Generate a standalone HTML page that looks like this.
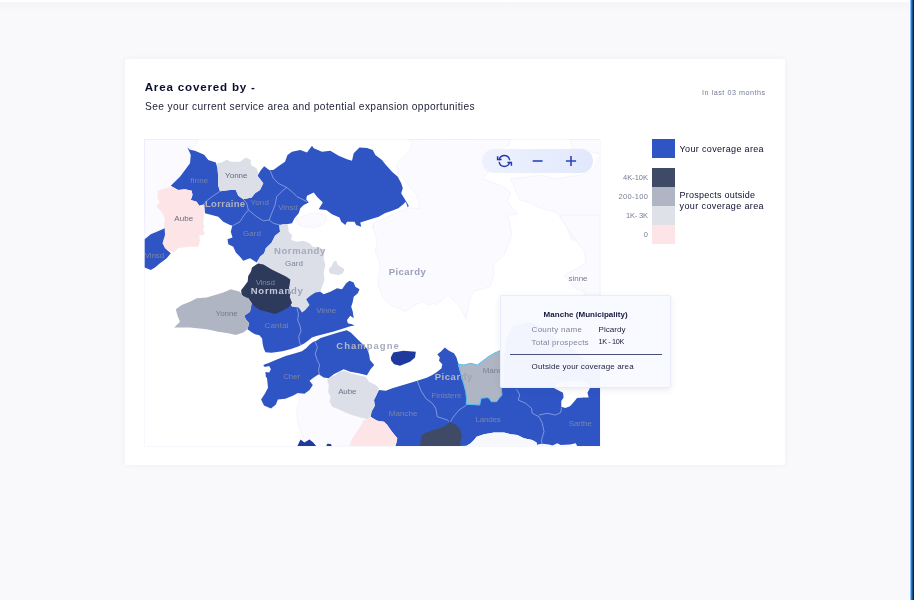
<!DOCTYPE html>
<html lang="en">
<head>
<meta charset="utf-8">
<title>Area covered</title>
<style>
html,body{margin:0;padding:0;}
body{width:914px;height:600px;overflow:hidden;background:#f9f9fb;font-family:"Liberation Sans",sans-serif;position:relative;}
.abs{position:absolute;}
.t{white-space:nowrap;}
.topstrip{left:0;top:0;width:914px;height:2px;background:#fff;}
.rwhite{left:909px;top:0;width:5px;height:600px;background:linear-gradient(90deg,#fff 0,#fff 1px,#7fbfff 1px,#7fbfff 2px,#0a84ff 2px,#0a84ff 3px,#14508c 3px,#14508c 4px,#1c1c1c 4px);}
.card{left:125px;top:59px;width:660px;height:406px;background:#fff;border-radius:2px;box-shadow:0 0 6px rgba(40,50,90,0.05);}
.map{left:144px;top:139px;width:456px;height:307px;background:#fff;overflow:hidden;}
.map svg{position:absolute;left:-144px;top:-139px;font-family:"Liberation Sans",sans-serif;}
.mapborder{left:144px;top:139px;width:457px;height:308px;box-sizing:border-box;border:1px solid rgba(40,60,230,0.04);}
.ctrl{left:482px;top:149px;width:111px;height:24px;border-radius:12px;background:linear-gradient(90deg,#eef2fe,#e2e8fc);}
.sw{left:652px;width:23px;}
.tip{left:500px;top:295px;width:171px;height:93px;box-sizing:border-box;background:rgba(249,250,255,0.972);border:1px solid #e9ecfa;border-radius:2px;box-shadow:0 2px 6px rgba(60,70,120,0.10);}
</style>
</head>
<body>
<div class="abs topstrip"></div>
<div class="abs" style="left:0;top:2px;width:909px;height:11px;background:linear-gradient(rgba(70,80,110,0.025),rgba(70,80,110,0))"></div>
<div class="abs card"></div>
<div class="abs t" style="left:144.7px;top:80.03px;font-size:11.6px;line-height:14.5px;font-weight:700;color:#0c0e2e;letter-spacing:0.809px;">Area covered by -</div>
<div class="abs t" style="left:145px;top:100.89px;font-size:10.2px;line-height:12.75px;font-weight:400;color:#1d2036;letter-spacing:0.369px;">See your current service area and potential expansion opportunities</div>
<div class="abs t" style="left:702px;top:88.11px;font-size:7.2px;line-height:9.0px;font-weight:400;color:#767c94;letter-spacing:0.529px;">In last 03 months</div>
<div class="abs t" style="left:679.6px;top:144.26px;font-size:9px;line-height:11.25px;font-weight:400;color:#0c0e2e;letter-spacing:0.34px;">Your coverage area</div>
<div class="abs t" style="left:679.6px;top:190.26px;font-size:9px;line-height:11.25px;font-weight:400;color:#0c0e2e;letter-spacing:0.241px;">Prospects outside</div>
<div class="abs t" style="left:679.6px;top:201.26px;font-size:9px;line-height:11.25px;font-weight:400;color:#0c0e2e;letter-spacing:0.38px;">your coverage area</div>
<div class="abs t" style="left:623px;top:172.71px;font-size:7.5px;line-height:9.38px;font-weight:400;color:#767c94;letter-spacing:-0.003px;">4K-10K</div>
<div class="abs t" style="left:618.4px;top:191.71px;font-size:7.5px;line-height:9.38px;font-weight:400;color:#767c94;letter-spacing:0.346px;">200-100</div>
<div class="abs t" style="left:626px;top:210.71px;font-size:7.5px;line-height:9.38px;font-weight:400;color:#767c94;letter-spacing:-0.186px;">1K- 3K</div>
<div class="abs t" style="left:643.83px;top:229.71px;font-size:7.5px;line-height:9.38px;font-weight:400;color:#767c94;letter-spacing:0px;">0</div>

<div class="abs map">
<svg width="914" height="600" viewBox="0 0 914 600">
<path d="M144.2,139.2 L198.3,139.2 L196.7,143.3 L190.0,149.7 L187.5,147.5 L190.8,155.0 L190.0,163.3 L180.0,176.7 L170.8,185.8 L158.3,190.8 L157.5,198.3 L160.0,201.7 L156.7,206.7 L161.7,211.7 L165.0,218.3 L164.2,225.0 L165.8,231.7 L165.0,228.3 L161.7,232.5 L156.7,230.0 L150.0,235.0 L145.0,239.2Z" fill="#fafaff" stroke="#eceefb" stroke-width="0.6"/>
<path d="M408.7,139.2 L412.0,143.3 L408.7,151.7 L402.0,158.3 L396.2,165.0 L398.7,173.3 L408.7,185.0 L415.3,193.3 L418.7,201.7 L419.5,208.3 L408.7,208.3 L398.7,211.7 L385.3,218.3 L373.7,223.3 L372.8,228.3 L372.8,225.0 L377.0,241.7 L375.3,251.7 L378.7,260.0 L380.3,270.0 L377.8,276.7 L378.7,286.7 L382.0,295.0 L385.3,300.0 L390.3,305.0 L398.7,308.3 L405.3,311.7 L415.3,305.0 L422.0,301.7 L428.7,305.0 L434.0,303.3 L436.0,305.0 L448.0,295.0 L460.0,307.0 L466.0,319.0 L470.0,299.0 L474.0,291.0 L490.0,287.0 L494.0,275.0 L493.0,265.0 L504.0,255.0 L512.0,235.0 L508.0,215.0 L517.6,213.8 L507.0,201.5 L510.5,192.8 L501.8,185.8 L482.5,178.8 L487.8,172.7 L482.5,161.3 L486.0,154.3 L496.5,149.9 L508.8,145.5 L510.5,138.9Z" fill="#fafaff" stroke="#eceefb" stroke-width="0.6"/>
<path d="M600.7,138.9 L570.1,138.9 L571.8,149.0 L584.1,149.0 L592.9,152.5 L600.7,154.3Z" fill="#fafaff" stroke="#eceefb" stroke-width="0.6"/>
<path d="M600.7,154.3 L600.7,240.1 L571.8,240.1 L566.6,226.1 L556.1,212.1 L542.1,208.6 L526.3,201.5 L519.3,199.8 L514.1,187.5 L510.5,178.8 L526.3,177.0 L542.1,175.3 L556.1,178.8 L566.6,177.0 L580.6,175.3 L592.9,170.0Z" fill="#fafaff" stroke="#eceefb" stroke-width="0.6"/>
<path d="M600.0,215.0 L600.0,295.0 L584.0,295.0 L584.0,291.0 L576.0,289.0 L564.0,275.0 L580.0,267.0 L586.0,261.0 L584.0,251.0 L572.0,235.0 L564.0,223.0 L560.0,215.0Z" fill="#fafaff" stroke="#eceefb" stroke-width="0.6"/>
<path d="M318.7,374.2 L313.7,377.5 L309.5,380.8 L312.0,385.0 L308.7,388.3 L305.3,391.7 L298.7,393.3 L297.5,392.6 L299.5,399.5 L296.6,409.4 L297.5,421.2 L300.5,431 L303.5,437 L300.5,448 L349.8,445.8 L351.5,440.0 L354.8,435.0 L358.2,430.0 L361.5,425.0 L364.0,420.0 L360.7,417.5 L352.3,415.0 L345.7,412.5 L339.0,409.2 L332.3,406.7 L329.8,401.7 L330.7,396.7 L328.2,391.7 L329.0,385.8 L327.3,380.0 L330.7,376.7Z" fill="#fafaff" stroke="#eceefb" stroke-width="0.6"/>
<path d="M295.3,218.3 L302.0,216.7 L310.3,213.3 L318.7,213.3 L325.3,215.0 L327.0,220.0 L322.0,225.0 L313.7,227.5 L305.3,226.7 L298.7,225.0Z" fill="#fafaff" stroke="#eceefb" stroke-width="0.6"/>
<path d="M204.2,204.2 L205.0,213.3 L211.7,215.0 L218.3,216.7 L223.3,221.7 L230.0,225.0 L232.5,225.8 L232.5,225.0 L230.8,231.7 L232.5,237.5 L227.5,239.2 L228.3,244.2 L233.3,246.7 L235.8,252.5 L240.0,256.7 L243.3,260.8 L250.0,258.3 L256.7,262.5 L260.0,256.7 L264.2,253.3 L265.8,248.3 L271.7,242.5 L275.0,235.8 L280.0,231.7 L279.2,225.0 L280.0,225.0 L286.7,224.2 L292.0,223.3 L294.5,218.3 L298.7,213.3 L300.3,208.3 L303.7,205.0 L308.7,202.5 L306.2,199.2 L307.0,195.8 L313.7,192.5 L317.0,196.7 L322.8,202.5 L318.7,209.2 L326.2,210.0 L332.0,214.2 L339.5,217.5 L341.2,221.7 L345.3,225.0 L347.0,221.7 L354.5,221.7 L356.2,225.0 L361.2,226.7 L360.3,222.5 L373.7,218.3 L378.7,216.7 L385.3,213.0 L392.0,210.8 L398.3,208.3 L403.3,204.2 L405.7,201.7 L407.8,207.5 L408.7,205.8 L405.3,200.0 L401.2,193.3 L402.8,188.3 L401.2,183.3 L397.8,176.7 L392.0,171.7 L385.3,164.2 L382.0,160.0 L375.3,155.0 L372.8,150.0 L367.0,148.0 L359.5,147.5 L353.7,153.3 L352.0,160.8 L347.0,159.2 L338.7,155.8 L330.3,150.8 L322.0,151.7 L313.7,148.3 L312.0,145.8 L307.0,152.5 L300.3,150.0 L292.0,151.7 L287.5,155.0 L285.0,161.7 L279.2,165.8 L273.3,170.0 L269.2,170.0 L264.2,166.3 L260.8,170.3 L257.5,175.8 L263.3,183.3 L260.0,190.0 L255.0,193.3 L251.7,197.5 L243.3,199.2 L238.3,195.8 L235.8,190.0 L230.0,190.0 L220.0,191.3 L218.0,185.0 L218.3,178.3 L217.5,168.3 L215.8,162.5 L208.3,160.0 L204.2,154.7 L195.0,150.8 L190.0,149.7 L187.5,147.5 L190.8,155.0 L190.0,163.3 L180.0,176.7 L170.8,185.8 L178.3,190.0 L185.0,189.2 L191.7,190.8 L192.5,195.0 L190.8,200.0 L196.7,201.7 L199.2,205.8Z" fill="#2f55c4" />
<path d="M217.0,163.3 L221.7,162.5 L226.7,159.7 L230.8,161.7 L240.0,161.7 L245.8,157.5 L250.8,160.0 L250.8,165.0 L256.7,168.3 L258.3,173.3 L257.5,175.8 L263.3,183.3 L260.0,190.0 L255.0,193.3 L251.7,197.5 L243.3,199.2 L238.3,195.8 L235.8,190.0 L230.0,190.0 L220.0,191.3 L218.0,185.0 L218.3,178.3 L217.5,168.3Z" fill="#dcdfe7" />
<path d="M158.3,190.8 L170.8,186.7 L178.3,190.0 L185.0,189.2 L191.7,190.8 L192.5,195.0 L190.8,200.0 L196.7,201.7 L199.2,205.8 L204.2,205.0 L204.2,213.3 L203.3,221.7 L204.2,228.3 L202.5,228.3 L205.0,234.2 L199.2,235.8 L200.0,240.8 L198.3,246.7 L188.3,246.7 L178.3,248.3 L173.3,252.5 L165.0,248.3 L162.5,243.3 L165.0,235.0 L165.0,228.3 L165.8,231.7 L164.2,225.0 L165.0,218.3 L161.7,211.7 L156.7,206.7 L160.0,201.7 L157.5,198.3Z" fill="#fde4e6" />
<path d="M144.7,239.2 L150.8,234.2 L160.8,230.0 L164.7,228.3 L165.0,235.0 L162.5,243.3 L165.0,248.3 L170.8,253.3 L166.7,258.3 L160.0,263.3 L155.0,267.5 L150.8,270.0 L144.7,267.5Z" fill="#2f55c4" />
<path d="M279.5,225 L284,224 L288,225 L288.7,231.7 L292.0,235.0 L291.2,240.0 L297.0,241.7 L303.7,240.8 L309.5,243.3 L312.8,246.7 L319.5,247.5 L324.5,250.0 L323.7,258.3 L325.3,265.0 L323.7,273.3 L324.5,280.0 L322.0,286.7 L320.3,291.7 L315.3,292.5 L310.3,295.8 L306.2,299.2 L309.5,305.0 L305.3,310.0 L302.0,312.5 L298.7,307.5 L292.0,306.7 L288.7,305.0 L285.3,291.7 L282.0,281.7 L272,275 L263,270 L258.5,266 L257.5,262.5 L260.0,256.7 L264.2,253.3 L265.8,248.3 L271.7,242.5 L275.0,235.8 L280.0,231.7Z" fill="#dcdfe7" />
<path d="M333.7,261.7 L336.2,260.8 L337.8,265.0 L342.0,267.5 L344.5,269.2 L342.8,273.3 L338.7,275.0 L333.7,274.2 L329.5,273.3 L328.7,269.2 L331.2,266.7Z" fill="#dcdfe7" />
<path d="M251.7,303.3 L255,302 L263.3,304 L273.3,306 L280,304 L286.7,302 L288.7,302 L292.0,306.7 L298.7,307.5 L302.0,312.5 L305.3,310.0 L309.5,305.0 L306.2,299.2 L310.3,295.8 L315.3,292.5 L320.3,291.7 L323.7,294.2 L330.3,291.7 L337.0,288.3 L342.0,289.2 L346.2,283.3 L349.5,280.8 L353.7,282.5 L355.3,286.7 L359.5,289.2 L357.8,293.3 L353.7,296.7 L352.8,301.7 L351.2,306.7 L352.8,311.7 L353.7,318.3 L350.3,315.8 L347.0,320.0 L347.8,323.3 L352,324.2 L354.5,325.5 L350.2,326.3 L342.5,328.8 L333.8,331.5 L325,333.7 L316.3,335.9 L311.9,337.5 L308.6,340.2 L304.2,343.5 L298.8,346.3 L291.1,349 L282.4,351.2 L271.4,352.8 L265.4,352.3 L263.8,348.4 L262.7,344.1 L262.1,338.6 L259.4,335.3 L255,334.2 L252,332.5 L247.5,329.2 L249.2,323.3 L245.8,319.2 L244.2,315.8 L250.0,311.7 L251.7,303.3Z" fill="#2f55c4" />
<path d="M252,267.4 L258,263.5 L263.5,264.6 L271.7,269.5 L278.3,272.8 L286,276.6 L290.3,279.4 L289.8,283.8 L289,288 L290.5,292.5 L289.8,297 L292,303 L289,307 L282,311 L275,314 L268,312 L260,310 L255,306.7 L251.7,303.3 L248.3,298.3 L245.5,298 L241.6,294.7 L241.1,290.3 L244.4,286 L247.7,281.6 L248.2,276.1 L250.9,271.7Z" fill="#2d3a5c" />
<path d="M230.8,289.2 L223.3,292.5 L215.0,295.0 L206.7,297.5 L196.7,298.3 L190.0,301.7 L181.7,305.0 L175.8,309.2 L177.5,315.8 L180.0,321.7 L174.2,327.5 L190.0,327.5 L206.7,329.2 L218.3,331.7 L228.3,333.3 L235.8,335.0 L243.3,332.5 L247.5,329.2 L249.2,323.3 L245.8,319.2 L244.2,315.8 L250.0,311.7 L251.7,303.3 L248.3,298.3 L242.5,295.8 L240.0,291.7Z" fill="#b0b5c3" />
<path d="M263.2,364.9 L269.2,362.7 L276.9,359.4 L285.6,356.1 L294.4,353.4 L302,351.2 L306.4,347.9 L309.7,344.6 L313,341.9 L316.3,340.8 L320.6,338 L329.4,335.3 L338.2,332.6 L346.7,330.3 L350.8,332.5 L355,336.7 L360.8,342.5 L367.5,349.2 L369.2,355 L370,360 L374.2,365 L370,370 L367,375.3 L358.7,373.3 L350.3,371.7 L343.7,369.2 L338.7,371.7 L333.7,374.2 L328.7,378.3 L323.7,377.5 L318.7,374.2 L313.7,377.5 L309.5,380.8 L312.8,385.0 L309.5,390.0 L304.5,393.7 L297.8,393.0 L292.8,395.8 L285.3,398.7 L277.9,399.5 L275.9,404.5 L271,408.4 L264,405.4 L261.1,399.5 L265,393.6 L268,387.7 L267,378 L265.9,376.9 L265.4,372 L269.2,372.5 L270.9,369.2 L269.2,366 L264.8,367Z" fill="#2f55c4" />
<path d="M390.8,357.5 L393.3,352.5 L403.3,350.8 L415.8,351.7 L415,357.5 L410,361.7 L400,365.8 L394.2,364.2 L391.3,360.8Z" fill="#1f3a9e" />
<path d="M296.5,448 L300.5,439.5 L304.4,442.5 L309.4,439.5 L313.3,442.5 L317,448Z" fill="#1f3a9e" />
<path d="M314.0,443.7 L317.3,447.5 L314.0,447.5Z" fill="#1f3a9e" />
<path d="M325.7,447.5 L327.3,443.7 L330.7,444.0 L332.7,447.5Z" fill="#1f3a9e" />
<path d="M376.5,395.0 L379.0,390.0 L385.7,390.8 L392.3,388.3 L400.7,385.8 L409.0,383.3 L417.3,380.8 L427.3,377.5 L425.7,378.3 L432.3,375.0 L437.3,371.7 L441.5,368.3 L442.3,364.2 L439.0,360.8 L439.8,357.5 L437.3,354.2 L440.7,351.7 L444.8,347.5 L449.0,350.8 L454.0,353.3 L456.5,357.5 L458.2,363.3 L464.0,370.0 L480.7,375.0 L503,372 L506,340 L512,326 L530,322 L548,330 L560,344 L575,350 L585,362 L602,365 L602,448 L537.5,448 L536.5,442.5 L532.3,440.0 L524.0,438.3 L517.3,435.0 L510.7,434.2 L504.0,432.5 L494.0,432.5 L484.0,434.2 L476.5,436.7 L474.0,440.0 L470.7,443.3 L466.5,445.8 L395,448 L396.5,442.5 L397.3,438.3 L394.0,434.2 L390.7,430.0 L387.3,425.0 L384.0,421.7 L377.3,420.8 L370.7,416.7 L371.5,411.7 L374.8,405.8 L374.0,400.0Z" fill="#2f55c4" />
<path d="M537.3,448.3 L466.5,448.3 L466.5,445.8 L537.3,445.8 L536.5,442.5 L532.3,440.0 L524.0,438.3 L517.3,435.0 L510.7,434.2 L504.0,432.5 L494.0,432.5 L484.0,434.2 L476.5,436.7 L474.0,440.0 L470.7,443.3 L466.5,445.8Z" fill="#f7f8fc" />
<path d="M554.3,388.2 L563,392.8 L563.6,397.5 L561.3,401 L561.3,406.8 L565.3,408 L570,406.3 L574.7,401 L577,398.1 L584,397.5 L588.7,397.5 L587.5,392.8 L589.8,388.2 L588,383 L580,381 L568,381 L558,383Z" fill="#ffffff" />
<path d="M537,447 L537.3,444.4 L542,443.8 L549,444.4 L552.5,445.4 L557.2,443.2 L560.7,445 L570,444.4 L575.8,443.2 L577.6,447Z" fill="#fbfbfe" />
<path d="M458.2,364.2 L464.0,365.0 L470.7,363.3 L477.3,365.0 L484.0,360.0 L488.2,356.7 L494.0,353.3 L499.8,350.8 L503,352 L504,372 L501.3,388.1 L502,395 L499,398.5 L496.6,401.7 L491.3,401.7 L489.3,398.5 L487.3,397.6 L481.2,398.3 L480.3,402 L479.7,405.1 L473,404.6 L466.3,404.3 L466.5,398.3 L465.7,391.7 L464.0,385.0 L461.5,376.7 L459.8,370.0Z" fill="#b0b5c3" stroke="#55c0f5" stroke-width="1" stroke-linejoin="round"/>
<path d="M339.0,371.7 L344.0,370.8 L350.7,373.3 L357.3,375.0 L365.7,376.7 L369.0,381.7 L375.7,385.0 L379.0,388.3 L376.5,395.0 L374.0,400.0 L374.8,405.8 L371.5,411.7 L370.7,416.7 L367.3,419.2 L360.7,417.5 L352.3,415.0 L345.7,412.5 L339.0,409.2 L332.3,406.7 L329.8,401.7 L330.7,396.7 L328.2,391.7 L329.0,385.8 L327.3,380.0 L330.7,376.7 L335.7,375.0Z" fill="#dcdfe7" />
<path d="M364.0,420.0 L367.3,419.2 L370.7,417.5 L377.3,420.8 L384.0,421.7 L387.3,425.0 L390.7,430.0 L394.0,434.2 L397.3,438.3 L396.5,442.5 L393.2,447.5 L349.8,447.5 L351.5,440.0 L354.8,435.0 L358.2,430.0 L361.5,425.0Z" fill="#fde4e6" />
<path d="M419.8,448 L420.5,441 L422,434.4 L431,430.8 L441.3,427.8 L446,425.2 L450.3,422 L455.7,424.7 L460.1,429 L461.9,436.3 L460.3,443 L460,448Z" fill="#3f4b66" />
<path d="M220.0,191.3 L213.3,195.8 L206.7,200.8 L204.2,204.2" fill="none" stroke="#b4c1ef" stroke-opacity="0.85" stroke-width="0.7" stroke-linejoin="round"/>
<path d="M243.3,199.2 L246.7,203.3 L248.3,210.0 L244.2,215.0 L240.0,221.7 L232.5,225.8" fill="none" stroke="#b4c1ef" stroke-opacity="0.85" stroke-width="0.7" stroke-linejoin="round"/>
<path d="M248.3,210.0 L256.7,216.7 L263.3,220.8 L269.2,220.0 L273.3,223.3 L280.0,225.0" fill="none" stroke="#b4c1ef" stroke-opacity="0.85" stroke-width="0.7" stroke-linejoin="round"/>
<path d="M269.2,220.0 L271.7,213.3 L275.0,205.0 L276.7,196.7 L283.3,190.0 L286.7,187.5" fill="none" stroke="#b4c1ef" stroke-opacity="0.85" stroke-width="0.7" stroke-linejoin="round"/>
<path d="M270.0,170.0 L273.3,178.3 L278.3,183.3 L286.7,187.5 L292.0,191.7 L297.0,196.7 L303.7,200.0 L307.0,201.7" fill="none" stroke="#b4c1ef" stroke-opacity="0.85" stroke-width="0.7" stroke-linejoin="round"/>
<path d="M297,308.5 L298.5,314 L297.7,320 L299.9,325.5 L301,330.9 L298.8,336.4 L299.3,341.9 L301,345.2" fill="none" stroke="#b4c1ef" stroke-opacity="0.85" stroke-width="0.7" stroke-linejoin="round"/>
<path d="M315.2,341.9 L317.4,347.4 L315.2,353.9 L317.4,360.5 L319.6,364.9 L318.5,370.3 L319.6,374.7" fill="none" stroke="#b4c1ef" stroke-opacity="0.85" stroke-width="0.7" stroke-linejoin="round"/>
<path d="M417.3,380.8 L420.7,390.0 L425.7,398.3 L432.3,403.3 L435.7,408.3 L437.3,416.7 L447.3,420.0 L449.0,421.7" fill="none" stroke="#b4c1ef" stroke-opacity="0.85" stroke-width="0.7" stroke-linejoin="round"/>
<path d="M466.5,405.0 L459.0,410.0 L452.3,418.3 L450.7,421.7" fill="none" stroke="#b4c1ef" stroke-opacity="0.85" stroke-width="0.7" stroke-linejoin="round"/>
<path d="M516.5,389.2 L519.8,395.0 L518.2,400.0 L525.7,403.3 L531.5,408.3 L532.3,413.3 L539.0,416.7 L542.3,423.3 L544.0,431.7 L541.5,440.0 L542.3,445.8" fill="none" stroke="#b4c1ef" stroke-opacity="0.85" stroke-width="0.7" stroke-linejoin="round"/>
<path d="M539.0,415.0 L547.3,413.3 L555.7,415.0 L560.7,412.5 L561.5,407.5" fill="none" stroke="#b4c1ef" stroke-opacity="0.85" stroke-width="0.7" stroke-linejoin="round"/>
<text x="190.2" y="180.3" font-size="8" font-weight="400" fill="#7a84a8" letter-spacing="0.163" dominant-baseline="central">finne</text>
<text x="225.05" y="175.5" font-size="8" font-weight="400" fill="#666c7e" letter-spacing="0.025" dominant-baseline="central">Yonne</text>
<text x="205.0" y="203.3" font-size="9.5" font-weight="700" fill="#aeb2c2" letter-spacing="0.284" dominant-baseline="central">Lorraine</text>
<text x="250.55" y="202.2" font-size="8" font-weight="400" fill="#7a84a8" letter-spacing="0.117" dominant-baseline="central">Yond</text>
<text x="278.25" y="207.5" font-size="8" font-weight="400" fill="#7a84a8" letter-spacing="-0.092" dominant-baseline="central">Vinsd</text>
<text x="174.3" y="218.3" font-size="8" font-weight="400" fill="#666c7e" letter-spacing="0.039" dominant-baseline="central">Aube</text>
<text x="243.1" y="233.3" font-size="8" font-weight="400" fill="#7a84a8" letter-spacing="0.005" dominant-baseline="central">Gard</text>
<text x="144.65" y="255" font-size="8" font-weight="400" fill="#7a84a8" letter-spacing="-0.092" dominant-baseline="central">Vinsd</text>
<text x="273.9" y="250.4" font-size="9.5" font-weight="700" fill="#a4a9bb" letter-spacing="0.631" dominant-baseline="central">Normandy</text>
<text x="285.1" y="263.7" font-size="8" font-weight="400" fill="#7e8498" letter-spacing="0.005" dominant-baseline="central">Gard</text>
<text x="255.7" y="282.5" font-size="8" font-weight="400" fill="#7d869e" letter-spacing="-0.167" dominant-baseline="central">Vinsd</text>
<text x="250.8" y="289.7" font-size="9.5" font-weight="700" fill="#c5c9d6" letter-spacing="0.717" dominant-baseline="central"><tspan fill="#c5c9d6">Norman</tspan><tspan fill="#9da2b3">dy</tspan></text>
<text x="388.7" y="271.2" font-size="9.5" font-weight="700" fill="#9aa1b8" letter-spacing="0.446" dominant-baseline="central">Picardy</text>
<text x="215.6" y="313.3" font-size="8" font-weight="400" fill="#747a8e" letter-spacing="-0.05" dominant-baseline="central">Yonne</text>
<text x="264.4" y="325.8" font-size="8" font-weight="400" fill="#7a84a8" letter-spacing="0.215" dominant-baseline="central">Cantal</text>
<text x="316.2" y="310.8" font-size="8" font-weight="400" fill="#7a84a8" letter-spacing="-0.079" dominant-baseline="central">Vinne</text>
<text x="336.25" y="345.0" font-size="9.5" font-weight="700" fill="#b4b7c4" letter-spacing="1.016" dominant-baseline="central"><tspan fill="#b4b7c4">Cha</tspan><tspan fill="#a7abbc">mpagne</tspan></text>
<text x="283.2" y="376.3" font-size="8" font-weight="400" fill="#7a84a8" letter-spacing="-0.114" dominant-baseline="central">Cher</text>
<text x="338.15" y="391.2" font-size="8" font-weight="400" fill="#6e7488" letter-spacing="-0.128" dominant-baseline="central">Aube</text>
<text x="388.85" y="413.7" font-size="8" font-weight="400" fill="#7a84a8" letter-spacing="0.048" dominant-baseline="central">Manche</text>
<text x="434.75" y="376.3" font-size="9.5" font-weight="700" fill="#b4b7c4" letter-spacing="0.529" dominant-baseline="central"><tspan fill="#b4b7c4">Picar</tspan><tspan fill="#9fa4b4">dy</tspan></text>
<text x="431.5" y="395.8" font-size="8" font-weight="400" fill="#7a84a8" letter-spacing="-0.085" dominant-baseline="central">Finistere</text>
<text x="482.65" y="370.8" font-size="8" font-weight="400" fill="#7b8194" letter-spacing="0.048" dominant-baseline="central">Manche</text>
<text x="475.55" y="419.5" font-size="8" font-weight="400" fill="#7a84a8" letter-spacing="-0.189" dominant-baseline="central">Landes</text>
<text x="568.8" y="423.7" font-size="8" font-weight="400" fill="#7a84a8" letter-spacing="-0.114" dominant-baseline="central">Sarthe</text>
<text x="568.5" y="278.4" font-size="8" font-weight="400" fill="#777d90" letter-spacing="-0.031" dominant-baseline="central">sinne</text>
</svg>
</div>
<div class="abs mapborder"></div>

<div class="abs ctrl"></div>
<svg class="abs" style="left:482px;top:149px" width="111" height="24" viewBox="0 0 111 24" fill="none" stroke="#2a45bb" stroke-width="1.4">
<path d="M27.55 10.6A5.3 5.3 0 0 0 17.25 10.6" stroke="#2236ad" stroke-linecap="round"/>
<path d="M15.6 7.3V10.6H19.6" stroke="#2236ad" stroke-width="1.5"/>
<path d="M17.25 13.4A5.3 5.3 0 0 0 27.55 13.4" stroke="#2236ad" stroke-linecap="round"/>
<path d="M25.4 13.4H29.4V16.7" stroke="#2236ad" stroke-width="1.5"/>
<path d="M50.7 12h9.9" stroke-width="1.6"/>
<path d="M83.9 12h10.2M89 6.9v10.2" stroke-width="1.6"/>
</svg>

<div class="abs sw" style="top:139px;height:19px;background:#2f55c4"></div>
<div class="abs sw" style="top:168px;height:19px;background:#3f4b66"></div>
<div class="abs sw" style="top:187px;height:19px;background:#b0b5c3"></div>
<div class="abs sw" style="top:206px;height:19px;background:#dfe1e8"></div>
<div class="abs sw" style="top:225px;height:19px;background:#fde4e6"></div>

<div class="abs tip"></div>
<div class="abs t" style="left:543.6px;top:310.43px;font-size:8px;line-height:10.0px;font-weight:700;color:#15173a;letter-spacing:0.022px;">Manche (Municipality)</div>
<div class="abs t" style="left:531.6px;top:325.03px;font-size:8px;line-height:10.0px;font-weight:400;color:#7f849b;letter-spacing:0.272px;">County name</div>
<div class="abs t" style="left:598.5px;top:325.03px;font-size:8px;line-height:10.0px;font-weight:400;color:#1b1d3a;letter-spacing:0.054px;">Picardy</div>
<div class="abs t" style="left:531.6px;top:337.53px;font-size:8px;line-height:10.0px;font-weight:400;color:#7f849b;letter-spacing:0.228px;">Total prospects</div>
<div class="abs t" style="left:598.5px;top:336.91px;font-size:7.3px;line-height:9.12px;font-weight:400;color:#1b1d3a;letter-spacing:-0.372px;">1K - 10K</div>
<div class="abs t" style="left:531.6px;top:361.63px;font-size:8px;line-height:10.0px;font-weight:400;color:#1b1d3a;letter-spacing:0.131px;">Outside your coverage area</div>
<div class="abs" style="left:510px;top:353.7px;width:152px;height:1px;background:#4a4f7c"></div>

<div class="abs rwhite"></div>
</body>
</html>
